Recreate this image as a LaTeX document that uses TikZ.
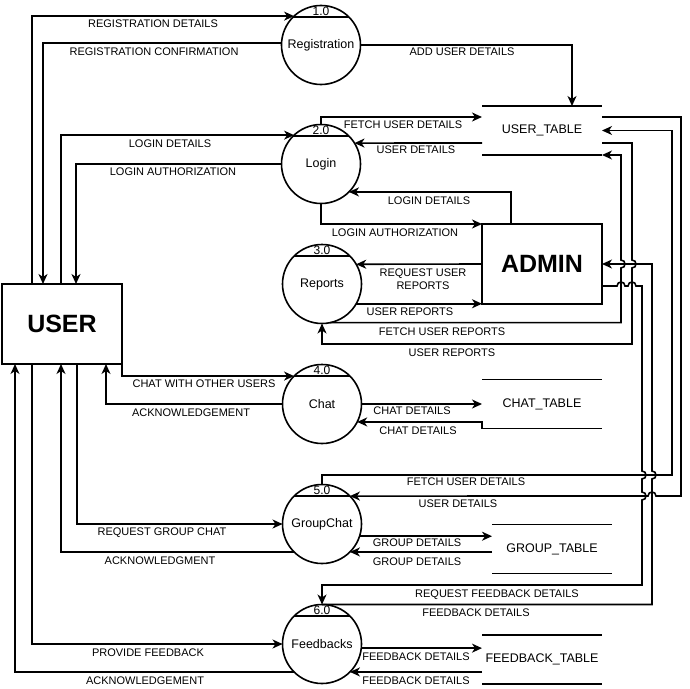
\documentclass[tikz,border=0pt]{standalone}
\usepackage{fontspec}
\setmainfont{Liberation Sans}
\usetikzlibrary{arrows.meta,calc}
\begin{document}
\begin{tikzpicture}[x=1pt,y=-1pt,
  line width=1.6pt,
  arr/.style={-{Stealth[length=10pt,width=9pt,inset=3pt]}},
  proc/.style={circle,draw,minimum size=79pt,inner sep=0pt,outer sep=0pt,font=\fontsize{12.5}{14}\selectfont},
  num/.style={inner sep=0pt,anchor=base,font=\fontsize{12}{14}\selectfont},
  ent/.style={rectangle,draw,minimum width=120pt,minimum height=80pt,inner sep=0pt,outer sep=0pt,font=\fontsize{25}{30}\selectfont\bfseries},
  store/.style={minimum width=120pt,minimum height=49pt,inner sep=0pt,outer sep=0pt,font=\fontsize{12.5}{14}\selectfont},
  lbl/.style={inner sep=0pt,font=\fontsize{11}{13}\selectfont,align=center}
]
\useasboundingbox (0,0) rectangle (690,688);
\fill[white] (0,0) rectangle (690,688);

% entities
\node[ent] (user) at (62,324) {USER};
\node[ent] (admin) at (542,264) {ADMIN};

% processes
\node[proc] (reg) at (321,45) {Registration};
\node[proc] (login) at (321,164) {Login};
\node[proc] (rep) at (322,284) {Reports};
\node[proc] (chat) at (322,404) {Chat};
\node[proc] (gc) at (322,524) {GroupChat};
\node[proc] (fb) at (322,644) {Feedbacks};
\foreach \n/\t in {reg/1.0, login/2.0, rep/3.0, chat/4.0, gc/5.0, fb/6.0} {
  \draw (\n.135) -- (\n.45);
  \node[num] (num\n) at ($(\n.center)+(0,-30)$) {\t};
}

% data stores
\node[store] (ut) at (542,130.5) {USER\_TABLE};
\node[store] (ct) at (542,404) {CHAT\_TABLE};
\node[store] (gt) at (552,549) {GROUP\_TABLE};
\node[store] (ft) at (542,659.5) {FEEDBACK\_TABLE};
\foreach \s in {ut,ct,gt,ft} {
  \draw (\s.north west) -- (\s.north east);
  \draw (\s.south west) -- (\s.south east);
}

% Registration
\draw[arr] ($(user.north west)+(30,0)$) |- (reg.133);
\draw[arr] (reg.177) -| ($(user.north west)+(41,0)$);
\draw[arr] (reg.east) -| ($(ut.north west)+(90,0)$);

% Login
\draw[arr] ($(user.north west)+(59,0)$) |- (login.133);
\draw[arr] (login.west) -| ($(user.north west)+(74,0)$);
\draw[arr] (login.north) |- ($(ut.north west)+(0,11)$);
\draw[arr] ($(ut.north west)+(0,37)$) -- (login.32);
\draw[arr] ($(admin.north west)+(29,0)$) |- (login.-45);
\draw[arr] (login.south) |- (admin.north west);

% Reports
\draw[arr] (admin.west) -- (rep.30);
\draw[arr] (rep.-30) -- (rep.-30 -| admin.west);
\draw[arr] (rep.-78) -- (rep.-78 -| 621,0) -- (621,268) .. controls (626.3,268) and (626.3,260) .. (621,260) -- (621,155) -- (ut.south east);
\draw[arr] ($(ut.north east)+(0,37)$) -- (632,143) -- (632,260) .. controls (637.3,260) and (637.3,268) .. (632,268) -- (632,344) -- (rep.south |- 0,344) -- (rep.south);

% Admin <-> Feedbacks
\draw[arr] (fb.north) -- (fb.north -| 652,0) -- (652,479) .. controls (657.3,479) and (657.3,471) .. (652,471) -- (652,264) -- (admin.east);
\draw[arr] ($(admin.east)+(0,22)$) -- (617,286) .. controls (617,280.7) and (625,280.7) .. (625,286) -- (628,286) .. controls (628,280.7) and (636,280.7) .. (636,286) -- (642,286) -- (642,471) .. controls (647.3,471) and (647.3,479) .. (642,479) -- (642,492) .. controls (647.3,492) and (647.3,500) .. (642,500) -- (642,585) -- (fb.north |- 0,585) -- (fb.north);

% GroupChat <-> USER_TABLE
\draw[arr] (gc.north) |- (672,475) -- (672,130.5) -- (ut.east);
\draw[arr] ($(ut.north east)+(0,11)$) -- (681,117) -- (681,496) -- (656,496) .. controls (656,490.7) and (648,490.7) .. (648,496) -- (gc.45);

% Chat
\draw[arr] (user.south east) |- (chat.135);
\draw[arr] (chat.west) -| ($(user.south west)+(104,0)$);
\draw[arr] (chat.east) -- (ct.west);
\draw[arr] (ct.south west) |- (chat.-27);

% GroupChat
\draw[arr] (gc.-18) -- (gc.-18 -| gt.west);
\draw[arr] (gc.-45 -| gt.west) -- (gc.-45);
\draw[arr] ($(user.south west)+(75,0)$) |- (gc.west);
\draw[arr] (gc.-135) -| ($(user.south west)+(59,0)$);

% Feedbacks
\draw[arr] ($(user.south west)+(30,0)$) |- (fb.west);
\draw[arr] (fb.-135) -| ($(user.south west)+(13,0)$);
\draw[arr] (fb.-6) -- (fb.-6 -| ft.west);
\draw[arr] (fb.-45 -| ft.west) -- (fb.-45);

% labels
\node[lbl] (t1) at (153,24) {REGISTRATION DETAILS};
\node[lbl] (t2) at (154,52) {REGISTRATION CONFIRMATION};
\node[lbl] (t3) at (462,52) {ADD USER DETAILS};
\node[lbl] (t4) at (170,144) {LOGIN DETAILS};
\node[lbl] (t5) at (173,172) {LOGIN AUTHORIZATION};
\node[lbl] (t6) at (403,125) {FETCH USER DETAILS};
\node[lbl] (t7) at (416,150) {USER DETAILS};
\node[lbl] (t8) at (429,201) {LOGIN DETAILS};
\node[lbl] (t9) at (395,233) {LOGIN AUTHORIZATION};
\node[lbl] (t10) at (423,279.5) {REQUEST USER\\REPORTS};
\node[lbl] (t11) at (410,312) {USER REPORTS};
\node[lbl] (t12) at (442,332) {FETCH USER REPORTS};
\node[lbl] (t13) at (452,353) {USER REPORTS};
\node[lbl] (t14) at (204,384) {CHAT WITH OTHER USERS};
\node[lbl] (t15) at (191,413) {ACKNOWLEDGEMENT};
\node[lbl] (t16) at (412,411) {CHAT DETAILS};
\node[lbl] (t17) at (418,431) {CHAT DETAILS};
\node[lbl] (t18) at (466,482) {FETCH USER DETAILS};
\node[lbl] (t19) at (458,504) {USER DETAILS};
\node[lbl] (t20) at (417,543) {GROUP DETAILS};
\node[lbl] (t21) at (417,562) {GROUP DETAILS};
\node[lbl] (t22) at (162,533) {REQUEST GROUP CHAT};
\node[lbl] (t23) at (160,561) {ACKNOWLEDGMENT};
\node[lbl] (t24) at (148,653) {PROVIDE FEEDBACK};
\node[lbl] (t25) at (145,681) {ACKNOWLEDGEMENT};
\node[lbl] (t26) at (497,595) {REQUEST FEEDBACK DETAILS};
\node[lbl] (t27) at (476,613) {FEEDBACK DETAILS};
\node[lbl] (t28) at (416,657) {FEEDBACK DETAILS};
\node[lbl] (t29) at (416,681) {FEEDBACK DETAILS};
\end{tikzpicture}
\end{document}
